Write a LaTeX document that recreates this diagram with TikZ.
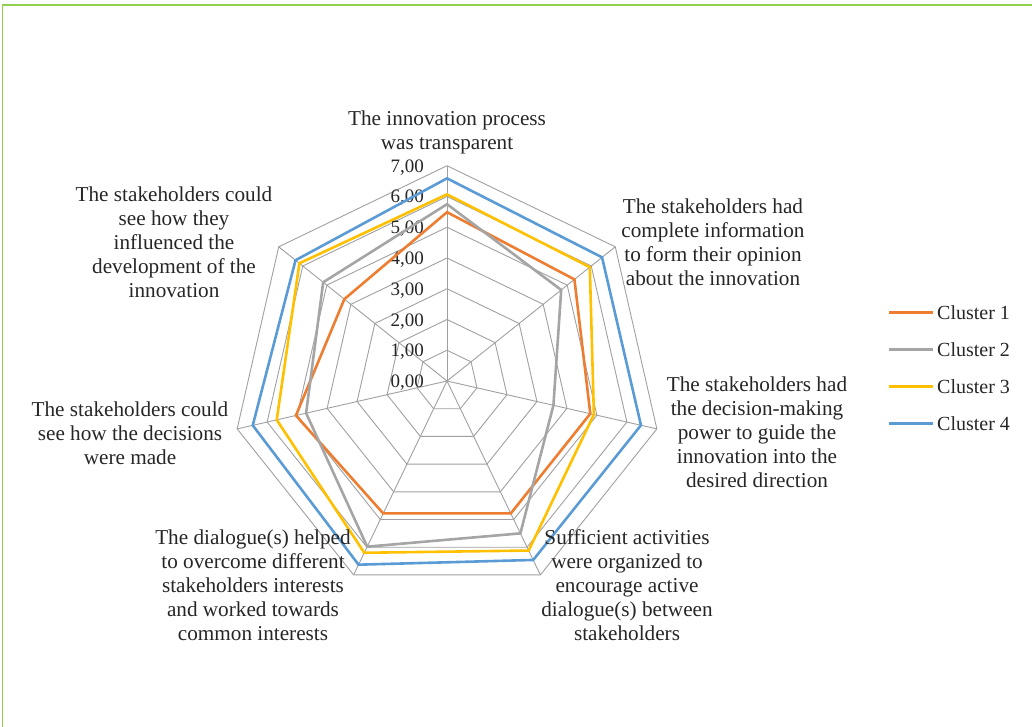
\documentclass[tikz,border=0pt]{standalone}
\usepackage{fontspec}
\setmainfont{Liberation Serif}
\definecolor{framegreen}{RGB}{146,208,80}
\definecolor{gridgray}{RGB}{160,160,160}
\definecolor{cone}{RGB}{237,125,49}
\definecolor{ctwo}{RGB}{165,165,165}
\definecolor{cthree}{RGB}{255,192,0}
\definecolor{cfour}{RGB}{91,155,213}
\begin{document}
\begin{tikzpicture}[x=1pt,y=-1pt,
  grid/.style={draw=gridgray, line width=0.9pt},
  series/.style={line width=2.6pt, line join=miter},
  axislabel/.style={align=center, font=\fontsize{21.2}{24}\selectfont, inner sep=0pt, text=black!85},
  ticklabel/.style={anchor=base east, font=\fontsize{19}{22}\selectfont, inner sep=0pt, text=black!85},
  legendtext/.style={anchor=west, font=\fontsize{20}{24}\selectfont, inner sep=0pt, text=black!85}]
\useasboundingbox (0,0) rectangle (1032,727);
% frame
\draw[framegreen, line width=1.2pt] (2.3,727) -- (2.3,5) -- (1032,5);

\begin{scope}[shift={(447,381)}]
  \def\unit{30.75}
  \coordinate (c) at (0,0);
  % rings
  \foreach \v in {1,...,7}{
    \draw[grid] (-90:\v*\unit) \foreach \k in {1,...,6}{ -- (\k*360/7-90:\v*\unit)} -- cycle;
  }
  % spokes
  \foreach \k in {0,...,6}{
    \coordinate (o\k) at (\k*360/7-90:7*\unit);
    \draw[grid] (c) -- (o\k);
  }
  % value labels
  \foreach \v in {0,...,7}{
    \node[ticklabel] (tick\v) at (-23,-\v*\unit+6.5) {\v,00};
  }
  % Cluster 1
  \foreach \k/\v in {0/5.49,1/5.30,2/4.78,3/4.78,4/4.78,5/5.04,6/4.27}
    \coordinate (a\k) at (\k*360/7-90:\v*\unit);
  \draw[series, cone] (a0) -- (a1) -- (a2) -- (a3) -- (a4) -- (a5) -- (a6) -- cycle;
  % Cluster 2
  \foreach \k/\v in {0/5.75,1/4.75,2/3.55,3/5.50,4/5.98,5/4.70,6/5.15}
    \coordinate (b\k) at (\k*360/7-90:\v*\unit);
  \draw[series, ctwo] (b0) -- (b1) -- (b2) -- (b3) -- (b4) -- (b5) -- (b6) -- cycle;
  % Cluster 3
  \foreach \k/\v in {0/6.07,1/5.94,2/4.90,3/6.12,4/6.20,5/5.68,6/6.14}
    \coordinate (d\k) at (\k*360/7-90:\v*\unit);
  \draw[series, cthree] (d0) -- (d1) -- (d2) -- (d3) -- (d4) -- (d5) -- (d6) -- cycle;
  % Cluster 4
  \foreach \k/\v in {0/6.59,1/6.45,2/6.47,3/6.46,4/6.63,5/6.48,6/6.30}
    \coordinate (e\k) at (\k*360/7-90:\v*\unit);
  \draw[series, cfour] (e0) -- (e1) -- (e2) -- (e3) -- (e4) -- (e5) -- (e6) -- cycle;
\end{scope}

% category labels
\node[axislabel] (lab0) at (447,132) {The innovation process\\was transparent};
\node[axislabel] (lab1) at (713,242.5) {The stakeholders had\\complete information\\to form their opinion\\about the innovation};
\node[axislabel] (lab2) at (757,432.5) {The stakeholders had\\the decision-making\\power to guide the\\innovation into the\\desired direction};
\node[axislabel] (lab3) at (627,585) {Sufficient activities\\were organized to\\encourage active\\dialogue(s) between\\stakeholders};
\node[axislabel] (lab4) at (253,585) {The dialogue(s) helped\\to overcome different\\stakeholders interests\\and worked towards\\common interests};
\node[axislabel] (lab5) at (130,433) {The stakeholders could\\see how the decisions\\were made};
\node[axislabel] (lab6) at (174,242) {The stakeholders could\\see how they\\influenced the\\development of the\\innovation};

% legend
\foreach \i/\col/\y in {1/cone/312.3,2/ctwo/349.3,3/cthree/386.3,4/cfour/423.3}{
  \coordinate (ls\i) at (889,\y);
  \coordinate (le\i) at (933,\y);
  \draw[series, \col] (ls\i) -- (le\i);
  \node[legendtext] (leg\i) at (937,\y) {Cluster \i};
}
\end{tikzpicture}
\end{document}
